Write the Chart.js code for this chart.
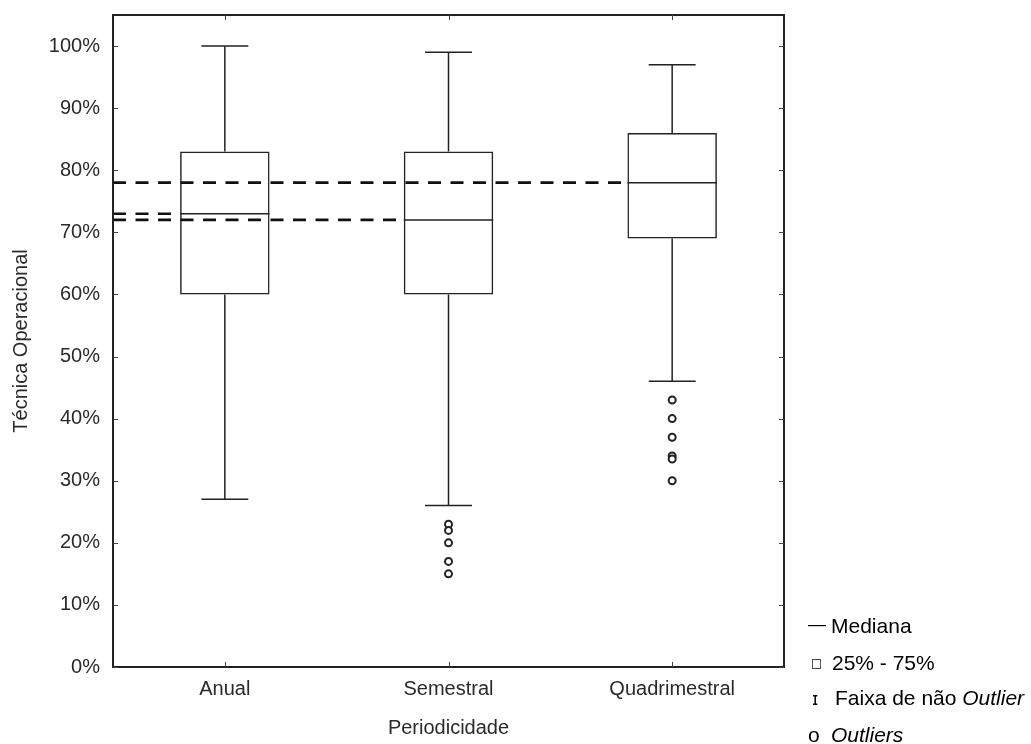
<!doctype html>
<html lang="pt">
<head>
  <meta charset="utf-8">
  <title>Técnica Operacional por Periodicidade</title>
  <script src="https://cdn.jsdelivr.net/npm/chart.js"></script>
  <style>
    html, body { margin: 0; padding: 0; background: #fff; overflow: hidden; }
    #wrap { position: relative; width: 1031px; height: 744px; }
    #legenda { font-family: "Liberation Sans", Arial, sans-serif; font-size: 21px; color: #000; }
    .item { position: absolute; left: 808px; height: 21px; line-height: 21px; white-space: nowrap; }
    .item span { position: absolute; top: 0; }
    .sym-traco { font-size: 18px; }
    .sym-quadrado { font-family: "DejaVu Sans", sans-serif; font-size: 12px; }
    .sym-i { font-family: "DejaVu Sans", sans-serif; font-size: 17px; }
    em { font-style: italic; }
  </style>
</head>
<body>
  <div id="wrap">
    <canvas id="boxChart"></canvas>
    <div id="legenda">
      <div class="item" style="top:615px"><span class="sym-traco" style="left:0;top:-1px">—</span><span style="left:23px">Mediana</span></div>
      <div class="item" style="top:652px"><span class="sym-quadrado" style="left:3px;top:1px">□</span><span style="left:24px">25% - 75%</span></div>
      <div class="item" style="top:687px"><span class="sym-i" style="left:4px;top:2px">ɪ</span><span style="left:27px">Faixa de não <em>Outlier</em></span></div>
      <div class="item" style="top:724px"><span style="left:0">o</span><span style="left:23px"><em>Outliers</em></span></div>
    </div>
  </div>

  <script>
    // dados (em %)
    var categorias = ['Anual', 'Semestral', 'Quadrimestral'];
    var limiteInferior = [27, 26, 46];
    var quartil1 = [60, 60, 69];
    var mediana = [73, 72, 78];
    var quartil3 = [83, 83, 86];
    var limiteSuperior = [100, 99, 97];
    var outliersSemestral = [23, 22, 20, 17, 15];
    var outliersQuadrimestral = [43, 40, 37, 34, 33.5, 30];
    var ticksY = [0, 10, 20, 30, 40, 50, 60, 70, 80, 90, 100];

    var corLinha = '#222';

    // whiskers, medianas, linhas tracejadas, moldura e marcas internas
    var desenhoBoxplot = {
      id: 'desenhoBoxplot',
      afterDatasetsDraw: function(chart) {
        var ctx = chart.ctx;
        var x = chart.scales.x;
        var y = chart.scales.y;
        var area = chart.chartArea;
        var larguraCat = x.getPixelForValue(1) - x.getPixelForValue(0);
        var meiaCaixa = larguraCat * 0.2;
        var meiaHaste = larguraCat * 0.105;

        ctx.save();
        ctx.strokeStyle = corLinha;
        ctx.lineWidth = 1.5;
        categorias.forEach(function(c, i) {
          var cx = x.getPixelForValue(i);
          var yMax = y.getPixelForValue(limiteSuperior[i]);
          var yMin = y.getPixelForValue(limiteInferior[i]);
          var yMed = y.getPixelForValue(mediana[i]);
          ctx.beginPath();
          ctx.moveTo(cx, y.getPixelForValue(quartil3[i]));
          ctx.lineTo(cx, yMax);
          ctx.moveTo(cx, y.getPixelForValue(quartil1[i]));
          ctx.lineTo(cx, yMin);
          ctx.moveTo(cx - meiaHaste, yMax);
          ctx.lineTo(cx + meiaHaste, yMax);
          ctx.moveTo(cx - meiaHaste, yMin);
          ctx.lineTo(cx + meiaHaste, yMin);
          ctx.moveTo(cx - meiaCaixa, yMed);
          ctx.lineTo(cx + meiaCaixa, yMed);
          ctx.stroke();
        });

        // referência tracejada das medianas
        ctx.setLineDash([13, 9.5]);
        ctx.lineWidth = 2.6;
        ctx.strokeStyle = '#111';
        categorias.forEach(function(c, i) {
          var cx = x.getPixelForValue(i);
          var yMed = y.getPixelForValue(mediana[i]);
          ctx.beginPath();
          ctx.moveTo(area.left, yMed);
          ctx.lineTo(cx - meiaCaixa, yMed);
          ctx.stroke();
        });
        ctx.setLineDash([]);

        // moldura
        ctx.lineWidth = 2;
        ctx.strokeStyle = corLinha;
        ctx.strokeRect(area.left, area.top, area.right - area.left, area.bottom - area.top);

        // marcas dos ticks, para dentro
        ctx.lineWidth = 1;
        ctx.strokeStyle = '#444';
        ctx.beginPath();
        y.ticks.forEach(function(t) {
          var py = Math.round(y.getPixelForValue(t.value)) + 0.5;
          ctx.moveTo(area.left, py);
          ctx.lineTo(area.left + 5, py);
          ctx.moveTo(area.right - 5, py);
          ctx.lineTo(area.right, py);
        });
        categorias.forEach(function(c, i) {
          var px = Math.round(x.getPixelForValue(i)) + 0.5;
          ctx.moveTo(px, area.bottom);
          ctx.lineTo(px, area.bottom - 5);
          ctx.moveTo(px, area.top);
          ctx.lineTo(px, area.top + 5);
        });
        ctx.stroke();
        ctx.restore();
      }
    };

    var pontosOutliers = outliersSemestral.map(function(v) {
      return { x: 'Semestral', y: v };
    }).concat(outliersQuadrimestral.map(function(v) {
      return { x: 'Quadrimestral', y: v };
    }));

    var fonteEixo = { family: '"Liberation Sans", Arial, sans-serif', size: 20 };

    var ctx = document.getElementById('boxChart').getContext('2d');
    var boxChart = new Chart(ctx, {
      type: 'bar',
      data: {
        labels: categorias,
        datasets: [{
          label: '25% - 75%',
          data: categorias.map(function(c, i) { return [quartil1[i], quartil3[i]]; }),
          backgroundColor: 'rgba(0,0,0,0)',
          borderColor: corLinha,
          borderWidth: 1.5,
          borderSkipped: false,
          barPercentage: 0.4,
          categoryPercentage: 1,
          grouped: false
        }, {
          type: 'line',
          label: 'Outliers',
          data: pontosOutliers,
          showLine: false,
          pointRadius: 3.5,
          pointBorderWidth: 2,
          pointBackgroundColor: '#fff',
          pointBorderColor: corLinha
        }]
      },
      options: {
        responsive: true,
        maintainAspectRatio: false,
        animation: false,
        layout: { padding: { top: 15, right: 247, left: 0, bottom: 0 } },
        plugins: {
          legend: { display: false },
          tooltip: { enabled: false }
        },
        scales: {
          x: {
            grid: { display: false, drawTicks: false },
            border: { display: false },
            ticks: { font: fonteEixo, color: '#2a2a2a', padding: 10 },
            title: { display: true, text: 'Periodicidade', font: fonteEixo, color: '#2a2a2a', padding: { top: 0, bottom: 4 } },
            afterFit: function(scale) {
              scale.height = 77;
              scale.paddingLeft = 0;
              scale.paddingRight = 0;
            }
          },
          y: {
            min: 0,
            max: 105,
            grid: { display: false, drawTicks: false },
            border: { display: false },
            afterBuildTicks: function(scale) {
              scale.ticks = ticksY.map(function(v) { return { value: v }; });
            },
            ticks: {
              font: fonteEixo,
              color: '#2a2a2a',
              padding: 13,
              callback: function(v) { return v + '%'; }
            },
            title: { display: true, text: 'Técnica Operacional', font: fonteEixo, color: '#2a2a2a', padding: 9 },
            afterFit: function(scale) {
              scale.width = 113;
              scale.paddingTop = 0;
              scale.paddingBottom = 0;
            }
          }
        }
      },
      plugins: [desenhoBoxplot]
    });
  </script>
</body>
</html>
